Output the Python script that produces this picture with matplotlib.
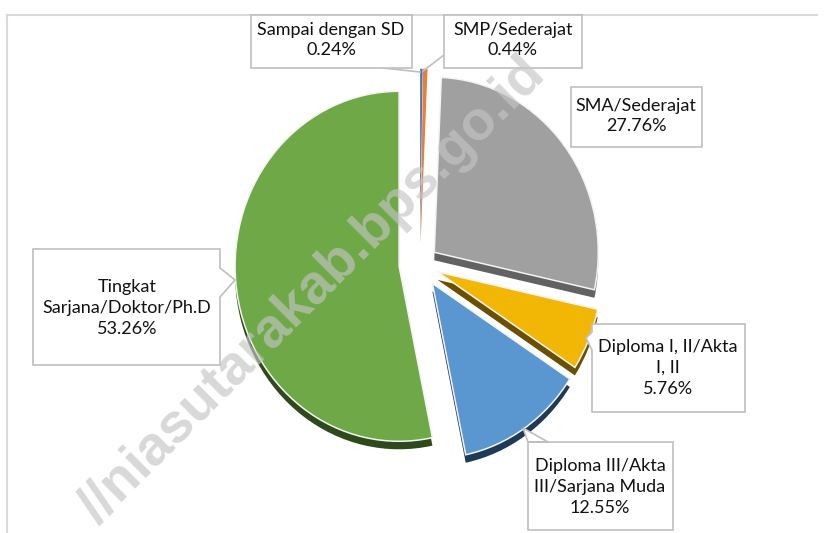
import matplotlib
matplotlib.use("Agg")
import matplotlib.pyplot as plt
from matplotlib.patches import Polygon
import numpy as np

# ---------------- data ----------------
categories = ["Sampai dengan SD", "SMP/Sederajat", "SMA/Sederajat",
              "Diploma I, II/Akta\nI, II", "Diploma III/Akta\nIII/Sarjana Muda",
              "Tingkat\nSarjana/Doktor/Ph.D"]
values = [0.24, 0.44, 27.76, 5.76, 12.55, 53.26]
face_colors = ["#4472C4", "#ED7D31", "#A0A0A0", "#F2B705", "#5A96CF", "#6EA847"]
wall_colors = ["#2E4F8A", "#9A4F1C", "#626262", "#6B4F00", "#1F3A56", "#2E4A1C"]
explode = [19, 19, 18, 19, 22, 21]

W, H = 827, 533
fig = plt.figure(figsize=(W / 100, H / 100), dpi=100)
fig.patch.set_facecolor("white")

# pie axes: x in pixels, y in pixels / s (slight vertical stretch)
s = 175 / 164
ax = fig.add_axes([0, 0, 1, 1])
cx, cy_img = 420, 264
R = 164

def to_data(xi, yi):
    return xi, (H - yi) / s

center = to_data(cx, cy_img)
wall_center = to_data(cx, cy_img + 8)

walls, _ = ax.pie(values, colors=wall_colors, explode=explode, radius=R,
                  center=wall_center, startangle=90, counterclock=False,
                  wedgeprops=dict(linewidth=0))
for w in walls:
    w.set_zorder(1)
faces, _ = ax.pie(values, colors=face_colors, explode=explode, radius=R,
                  center=center, startangle=90, counterclock=False,
                  wedgeprops=dict(edgecolor="#f4f4f4", linewidth=1.1))
for w in faces:
    w.set_zorder(2)
for w in faces[:2]:
    w.set_linewidth(0)
for w in walls[:2]:
    w.set_visible(False)
ax.set_aspect("auto")
ax.set_xlim(0, W)
ax.set_ylim(0, H / s)
ax.axis("off")

# overlay axes in image pixel coordinates
ov = fig.add_axes([0, 0, 1, 1])
ov.set_xlim(0, W)
ov.set_ylim(H, 0)
ov.axis("off")
ov.patch.set_alpha(0)

# chart frame (top and left)
ov.plot([7, 817], [15, 15], color="#d9d9d9", lw=1.5, zorder=1)
ov.plot([7, 7], [15, 533], color="#d9d9d9", lw=1.5, zorder=1)

# watermark
ov.text(547, 76, "//niasutarakab.bps.go.id", rotation=45, rotation_mode="anchor",
        ha="right", va="baseline", fontsize=40, fontweight="bold",
        family="Liberation Sans", color="#c4c4c4", alpha=0.65, zorder=20)

# callout boxes (layout)
boxes = [
    [(251, 15), (412, 15), (412, 68), (251, 68)],
    [(444, 15), (582, 15), (582, 68), (444, 68)],
    [(571, 87), (702, 87), (702, 147), (571, 147)],
    [(592, 324), (745, 324), (745, 412), (592, 412), (592, 350), (586, 338), (592, 332)],
    [(528, 442), (548, 442), (523, 428), (528, 442), (673, 442), (673, 530), (528, 530)],
    [(33, 249), (220, 249), (220, 268), (235, 280), (220, 297), (220, 365), (33, 365)],
]
for b in boxes:
    ov.add_patch(Polygon(b, closed=True, facecolor="white", edgecolor="#bfbfbf",
                         lw=1.2, zorder=10))
# leader lines for the thin slices
ov.plot([383, 420], [68, 72], color="#bfbfbf", lw=1.2, zorder=9)
ov.plot([444, 423], [55, 71], color="#bfbfbf", lw=1.2, zorder=9)

label_pos = [(331, 40), (513, 40), (636, 116), (668, 368), (600, 487), (127, 308)]
for (x, y), name, v in zip(label_pos, categories, values):
    ov.text(x, y, f"{name}\n{v:.2f}%", ha="center", va="center", fontsize=13,
            family="Lato", color="#111111", linespacing=1.35, zorder=11)

fig.savefig("out.png", dpi=100)
